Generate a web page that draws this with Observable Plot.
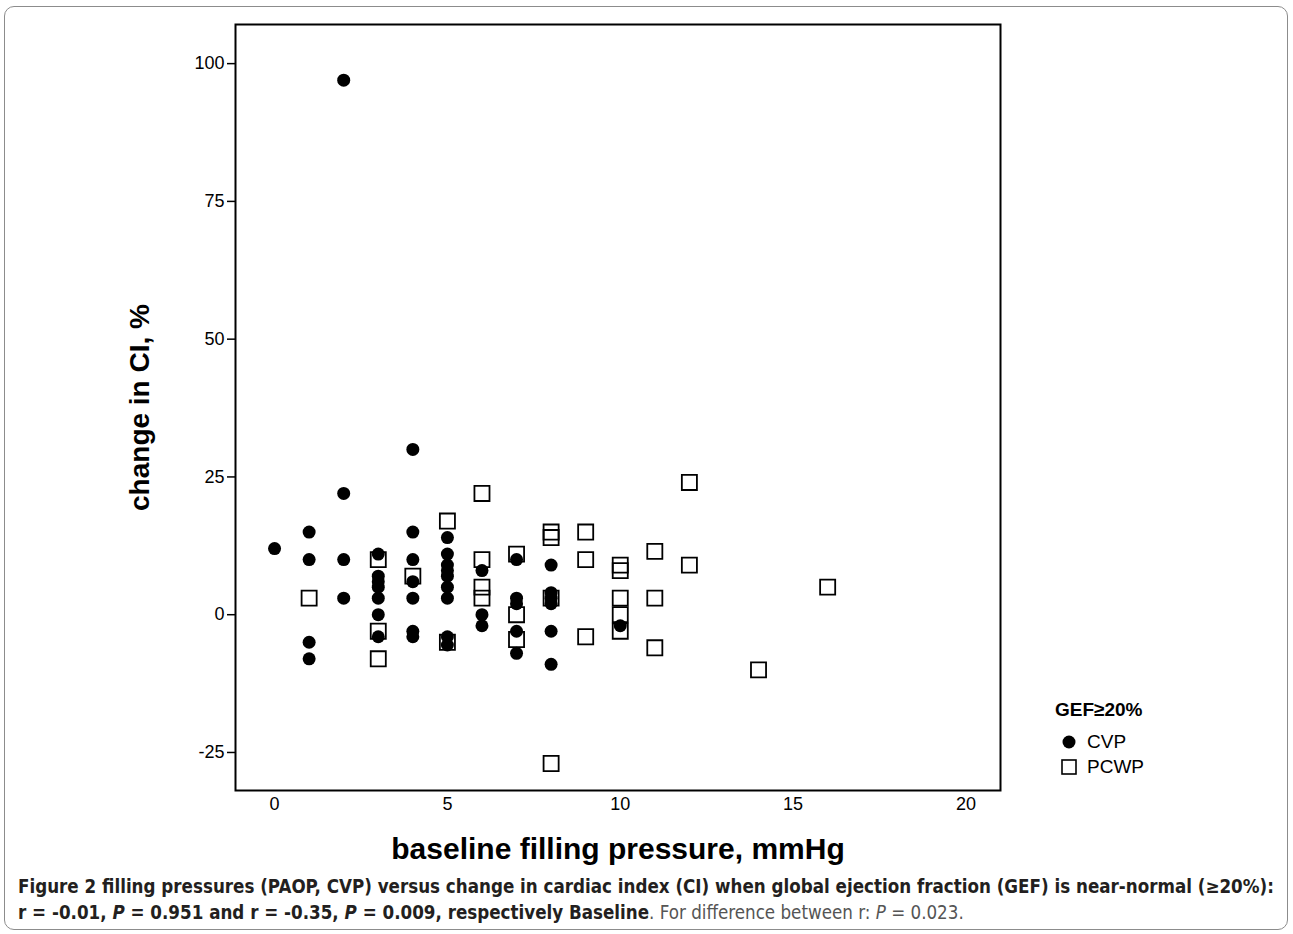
<!DOCTYPE html>
<html>
<head>
<meta charset="utf-8">
<script src="https://cdn.jsdelivr.net/npm/d3@7"></script>
<script src="https://cdn.jsdelivr.net/npm/@observablehq/plot@0.6"></script>
<style>
  body { margin: 0; background: #fff; }
  #fig { position: relative; width: 1293px; height: 934px; overflow: hidden; font-family: "Liberation Sans", Arial, sans-serif; }
  #border { position: absolute; left: 4px; top: 6px; width: 1284px; height: 924px; border: 1px solid #8c8c8c; border-radius: 10px; box-sizing: border-box; }
  #chart { position: absolute; left: 0; top: 0; }
  #legend { position: absolute; left: 1055px; top: 697px; font-size: 19px; color: #000; }
  #legend .title { font-weight: bold; font-size: 19px; height: 26px; line-height: 26px; margin-bottom: 6px; }
  #legend .row { display: flex; align-items: center; height: 25px; margin-left: 6px; }
  #legend svg { margin-right: 10px; }
  #caption { position: absolute; left: 18px; top: 874px; font-family: "Liberation Sans Narrow", "DejaVu Sans Condensed", "Open Sans", sans-serif; color: #231f20; line-height: 26px; white-space: nowrap; }
  #caption b { font-weight: bold; }
  #caption .reg { color: #555; }
</style>
</head>
<body>
<div id="fig">
  <div id="border"></div>
  <div id="chart"></div>
  <div id="legend"></div>
  <div id="caption">
    <div id="cap1"><b>Figure 2 filling pressures (PAOP, CVP) versus change in cardiac index (CI) when global ejection fraction (GEF) is near-normal (≥20%):</b></div>
    <div id="cap2"><b>r = -0.01, <i>P</i> = 0.951 and r = -0.35, <i>P</i> = 0.009, respectively Baseline</b><span class="reg">. For difference between r: <i>P</i> = 0.023.</span></div>
  </div>
</div>
<script>
// ---- data ----
const seriesNames = ["CVP", "PCWP"];
const legendTitle = "GEF≥20%";
const xLabel = "baseline filling pressure, mmHg";
const yLabel = "change in CI, %";
const xTicks = [0, 5, 10, 15, 20];
const yTicks = [-25, 0, 25, 50, 75, 100];

const cvpPressure = [0, 1,1,1,1, 2,2,2,2, 3,3,3,3,3,3,3, 4,4,4,4,4,4,4, 5,5,5,5,5,5,5,5,5, 6,6,6, 7,7,7,7,7, 8,8,8,8,8,8, 10];
const cvpChange   = [12, 15,10,-5,-8, 97,22,10,3, 11,7,6,5,3,0,-4, 30,15,10,6,3,-3,-4, 14,11,9,8,7,5,3,-4,-5.5, 8,0,-2, 10,3,2,-3,-7, 9,4,3,2,-3,-9, -2];

const pcwpPressure = [1, 3,3,3, 4, 5,5, 6,6,6,6, 7,7,7, 8,8,8,8, 9,9,9, 10,10,10,10,10, 11,11,11, 12,12, 14, 16];
const pcwpChange   = [3, 10,-3,-8, 7, 17,-5, 22,10,5,3, 11,0,-4.5, 15,14,3,-27, 15,10,-4, 9,8,3,0,-3, 11.5,3,-6, 24,9, -10, 5];

const cvp = cvpPressure.map((p, i) => ({pressure: p, change: cvpChange[i], series: seriesNames[0]}));
const pcwp = pcwpPressure.map((p, i) => ({pressure: p, change: pcwpChange[i], series: seriesNames[1]}));

const fmt = d => String(d);

const chart = Plot.plot({
  width: 1293,
  height: 870,
  marginLeft: 235,
  marginRight: 293,
  marginTop: 24,
  marginBottom: 80,
  x: {domain: [-1.13, 21.0]},
  y: {domain: [-31.9, 107.1]},
  style: {fontFamily: "'Liberation Sans', Arial, sans-serif", color: "#000", background: "transparent", overflow: "visible"},
  marks: [
    Plot.axisY({ticks: yTicks, tickFormat: fmt, tickSize: 8, tickPadding: 3, fontSize: 18, strokeWidth: 1.5,
      label: yLabel, labelAnchor: "center", labelOffset: 106, labelArrow: "none"}),
    Plot.axisX({ticks: xTicks, tickFormat: fmt, tickSize: 0, tickPadding: 7, fontSize: 18,
      label: xLabel, labelAnchor: "center", labelOffset: 68, labelArrow: "none"}),
    Plot.frame({stroke: "#000", strokeWidth: 2}),
    Plot.dot(pcwp, {x: "pressure", y: "change", symbol: "square", r: 8.5, fill: "none", stroke: "#000", strokeWidth: 1.8}),
    Plot.dot(cvp, {x: "pressure", y: "change", r: 6.5, fill: "#000", stroke: "none"})
  ]
});
document.getElementById("chart").appendChild(chart);

// style axis titles
const titleStyles = [['g[aria-label="y-axis label"]', 28], ['g[aria-label="x-axis label"]', 30]];
for (const [sel, size] of titleStyles) {
  const g = chart.querySelector(sel);
  if (g) { g.setAttribute("font-size", size); g.setAttribute("font-weight", "bold"); g.style.fontSize = size + "px"; g.style.fontWeight = "bold"; }
}

// legend
const legend = document.getElementById("legend");
const t = document.createElement("div"); t.className = "title"; t.textContent = legendTitle; legend.appendChild(t);
seriesNames.forEach((name, i) => {
  const row = document.createElement("div"); row.className = "row";
  const sym = i === 0
    ? '<svg width="16" height="16"><circle cx="8" cy="8" r="6.5" fill="#000"/></svg>'
    : '<svg width="16" height="16"><rect x="1" y="1" width="14" height="14" fill="none" stroke="#000" stroke-width="1.6"/></svg>';
  row.innerHTML = sym + '<span>' + name + '</span>';
  legend.appendChild(row);
});

// fit caption line 1 to the reference width
const cap = document.getElementById("caption");
cap.style.fontSize = "17px";
const w = document.getElementById("cap1").firstChild.getBoundingClientRect().width;
const fs = Math.max(13, Math.min(21, 17 * 1257 / w));
cap.style.fontSize = fs.toFixed(2) + "px";
</script>
</body>
</html>
